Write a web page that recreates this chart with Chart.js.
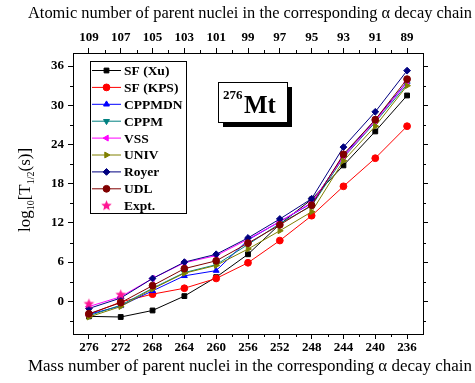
<!DOCTYPE html>
<html>
<head>
<meta charset="utf-8">
<script src="https://cdn.jsdelivr.net/npm/chart.js"></script>
<style>
  body { margin: 0; background: #fff; }
  canvas { display: block; }
</style>
</head>
<body>
<canvas id="decayChart" width="475" height="383"></canvas>
<script>
// Mass numbers (bottom axis) and atomic numbers (top axis)
const massNumbers = [276, 272, 268, 264, 260, 256, 252, 248, 244, 240, 236];
const atomicTicks = [109, 107, 105, 103, 101, 99, 97, 95, 93, 91, 89];
const yTicks = [0, 6, 12, 18, 24, 30, 36];
const massMinor = [274, 270, 266, 262, 258, 254, 250, 246, 242, 238];
const yMinor = [-3, 3, 9, 15, 21, 27, 33];

// log10 T1/2 (s)
const sfXu   = [-2.3, -2.4, -1.4, 0.8, 3.7, 7.2, 11.8, 15.6, 20.8, 26.0, 31.5];
const sfKps  = [-2.0, -0.1, 1.1, 2.0, 3.5, 5.9, 9.3, 13.1, 17.6, 21.9, 26.8];
const cppmdn = [-2.0, -0.7, 1.6, 3.9, 4.7, 9.4, 12.2, 15.0, 22.3, 27.8, 33.6];
const cppm   = [-2.2, -0.6, 2.0, 4.4, 5.6, 8.7, 11.9, 14.6, 22.0, 27.4, 33.2];
const vss    = [-0.8, 0.7, 3.5, 5.9, 7.0, 9.5, 12.2, 15.1, 22.1, 27.6, 33.5];
const univ   = [-2.4, -0.8, 1.9, 4.3, 5.5, 8.0, 10.8, 13.7, 21.5, 26.8, 33.0];
const royer  = [-1.1, 0.5, 3.5, 6.0, 7.2, 9.7, 12.6, 15.7, 23.6, 29.0, 35.3];
const udl    = [-1.9, -0.2, 2.4, 5.0, 6.2, 8.9, 11.7, 14.7, 22.5, 27.8, 34.0];
const exptMass = [276, 272];
const expt     = [-0.4, 1.0];

const topTitle = 'Atomic number of parent nuclei in the corresponding α decay chain';
const bottomTitle = 'Mass number of parent nuclei in the corresponding α decay chain';

const serif = '"Liberation Serif", "DejaVu Serif", serif';

// filled star marker for the experimental points
function makeStar(color, r) {
    const c = document.createElement('canvas');
    c.width = c.height = r * 2 + 2;
    const g = c.getContext('2d');
    g.fillStyle = color;
    g.beginPath();
    for (let i = 0; i < 10; i++) {
        const rad = i % 2 === 0 ? r : r * 0.45;
        const a = -Math.PI / 2 + i * Math.PI / 5;
        g.lineTo(r + 1 + rad * Math.cos(a), r + 1 + rad * Math.sin(a));
    }
    g.closePath();
    g.fill();
    return c;
}
const starImg = makeStar('#ff1493', 5.5);

function pts(xs, ys) { return ys.map((v, i) => ({ x: xs[i], y: v })); }

function series(label, values, color, style, rotation) {
    return {
        label: label,
        data: pts(massNumbers, values),
        borderColor: color,
        backgroundColor: color,
        borderWidth: 1,
        pointStyle: style,
        pointRotation: rotation || 0,
        pointRadius: 3.4,
        pointBorderWidth: 1
    };
}

const datasets = [
    series('SF (Xu)', sfXu, '#000000', 'rect'),
    series('SF (KPS)', sfKps, '#ff0000', 'circle'),
    series('CPPMDN', cppmdn, '#0000ff', 'triangle'),
    series('CPPM', cppm, '#008080', 'triangle', 180),
    series('VSS', vss, '#ff00ff', 'triangle', -90),
    series('UNIV', univ, '#808000', 'triangle', 90),
    series('Royer', royer, '#000080', 'rectRot'),
    series('UDL', udl, '#800000', 'circle'),
    {
        label: 'Expt.',
        data: pts(exptMass, expt),
        showLine: false,
        borderColor: '#ff1493',
        backgroundColor: '#ff1493',
        pointStyle: starImg,
        pointRadius: 5.5
    }
];
// later series drawn on top
datasets.forEach((d, i) => { d.order = datasets.length - i; });

// minor tick marks on all four sides
const minorTicks = {
    id: 'minorTicks',
    afterDraw(chart) {
        const { ctx, chartArea: a, scales } = chart;
        ctx.save();
        ctx.strokeStyle = '#000';
        ctx.lineWidth = 1;
        ctx.beginPath();
        massMinor.forEach(m => {
            const px = Math.round(scales.x.getPixelForValue(m)) + 0.5;
            ctx.moveTo(px, a.bottom); ctx.lineTo(px, a.bottom + 3);
            ctx.moveTo(px, a.top); ctx.lineTo(px, a.top - 3);
        });
        yMinor.forEach(v => {
            const py = Math.round(scales.y.getPixelForValue(v)) + 0.5;
            ctx.moveTo(a.left, py); ctx.lineTo(a.left - 3, py);
            ctx.moveTo(a.right, py); ctx.lineTo(a.right + 3, py);
        });
        ctx.stroke();
        ctx.restore();
    }
};

// axis titles; the original type is set wide, so stretch to the same span
const axisTitles = {
    id: 'axisTitles',
    afterDraw(chart) {
        const ctx = chart.ctx;
        ctx.save();
        ctx.fillStyle = '#000';
        ctx.textBaseline = 'middle';
        ctx.textAlign = 'center';
        ctx.font = '16px ' + serif;
        [[topTitle, 14], [bottomTitle, 367]].forEach(t => {
            const w = ctx.measureText(t[0]).width;
            const sx = 444 / w;
            ctx.save();
            ctx.translate(250, t[1]);
            ctx.scale(sx, 1);
            ctx.fillText(t[0], 0, 0);
            ctx.restore();
        });

        // y title with subscripts: log10[T1/2(s)]
        const parts = [['log', 0], ['10', 1], ['[T', 0], ['1/2', 1], ['(s)]', 0]];
        const big = '17px ' + serif, small = '10px ' + serif;
        ctx.textAlign = 'left';
        ctx.textBaseline = 'alphabetic';
        let w = 0;
        parts.forEach(p => { ctx.font = p[1] ? small : big; w += ctx.measureText(p[0]).width; });
        ctx.translate(30, 190);
        ctx.rotate(-Math.PI / 2);
        let x = -w / 2;
        parts.forEach(p => {
            ctx.font = p[1] ? small : big;
            ctx.fillText(p[0], x, p[1] ? 4 : 0);
            x += ctx.measureText(p[0]).width;
        });
        ctx.restore();
    }
};

// boxed legend inside the plot
const boxLegend = {
    id: 'boxLegend',
    afterDraw(chart) {
        const ctx = chart.ctx;
        const x0 = 90, y0 = 61, w = 96, h = 152;
        ctx.save();
        ctx.fillStyle = '#fff';
        ctx.fillRect(x0, y0, w, h);
        ctx.strokeStyle = '#000';
        ctx.lineWidth = 1;
        ctx.strokeRect(x0 + 0.5, y0 + 0.5, w, h);
        chart.data.datasets.forEach((d, i) => {
            const y = 70.5 + i * 16.9;
            ctx.strokeStyle = d.borderColor;
            ctx.fillStyle = d.backgroundColor;
            if (d.showLine !== false) {
                ctx.lineWidth = 1;
                ctx.beginPath();
                ctx.moveTo(92, y); ctx.lineTo(121, y);
                ctx.stroke();
            }
            if (Chart.helpers && Chart.helpers.drawPoint) {
                Chart.helpers.drawPoint(ctx, {
                    pointStyle: d.pointStyle, rotation: d.pointRotation || 0,
                    radius: d.pointRadius, borderWidth: 1
                }, 106.5, y);
            }
            ctx.fillStyle = '#000';
            ctx.font = 'bold 13.5px ' + serif;
            ctx.textBaseline = 'middle';
            ctx.fillText(d.label, 124, y + 1);
        });
        ctx.restore();
    }
};

// nucleus label with drop shadow
const nucleusLabel = {
    id: 'nucleusLabel',
    afterDraw(chart) {
        const ctx = chart.ctx;
        ctx.save();
        ctx.fillStyle = '#000';
        ctx.fillRect(223, 87, 69, 40);
        ctx.fillStyle = '#fff';
        ctx.fillRect(218, 82, 69, 40);
        ctx.strokeStyle = '#000';
        ctx.lineWidth = 1;
        ctx.strokeRect(218.5, 82.5, 69, 40);
        ctx.fillStyle = '#000';
        ctx.textBaseline = 'alphabetic';
        ctx.font = 'bold 13px ' + serif;
        ctx.fillText('276', 223, 99);
        ctx.font = 'bold 25px ' + serif;
        ctx.fillText('Mt', 244, 113);
        ctx.restore();
    }
};

const tickFont = { family: serif, weight: 'bold', size: 13 };
const tickGrid = { display: true, drawOnChartArea: false, drawTicks: true, tickLength: 5, color: '#000', lineWidth: 1 };
const frame = { display: true, color: '#000', width: 1 };

new Chart(document.getElementById('decayChart'), {
    type: 'line',
    data: { datasets: datasets },
    options: {
        responsive: false,
        animation: false,
        layout: { padding: 0 },
        plugins: { legend: { display: false }, tooltip: { enabled: false } },
        scales: {
            x: {
                type: 'linear', position: 'bottom', min: 234, max: 278, reverse: true,
                afterBuildTicks: s => { s.ticks = massNumbers.map(v => ({ value: v })); },
                afterFit: s => { s.height = 49; },
                ticks: { font: tickFont, color: '#000', padding: 1, maxRotation: 0, autoSkip: false },
                grid: tickGrid, border: frame
            },
            x2: {
                type: 'linear', position: 'top', min: 88, max: 110, reverse: true,
                afterBuildTicks: s => { s.ticks = atomicTicks.map(v => ({ value: v })); },
                afterFit: s => { s.height = 53; },
                ticks: { font: tickFont, color: '#000', padding: 3, maxRotation: 0, autoSkip: false },
                grid: tickGrid, border: frame
            },
            y: {
                type: 'linear', position: 'left', min: -5, max: 38,
                afterBuildTicks: s => { s.ticks = yTicks.map(v => ({ value: v })); },
                afterFit: s => { s.width = 73; },
                ticks: { font: tickFont, color: '#000', padding: 4 },
                grid: tickGrid, border: frame
            },
            y2: {
                type: 'linear', position: 'right', min: -5, max: 38,
                afterBuildTicks: s => { s.ticks = yTicks.map(v => ({ value: v })); },
                afterFit: s => { s.width = 52; },
                ticks: { display: false },
                grid: tickGrid, border: frame
            }
        }
    },
    plugins: [minorTicks, axisTitles, boxLegend, nucleusLabel]
});
</script>
</body>
</html>
